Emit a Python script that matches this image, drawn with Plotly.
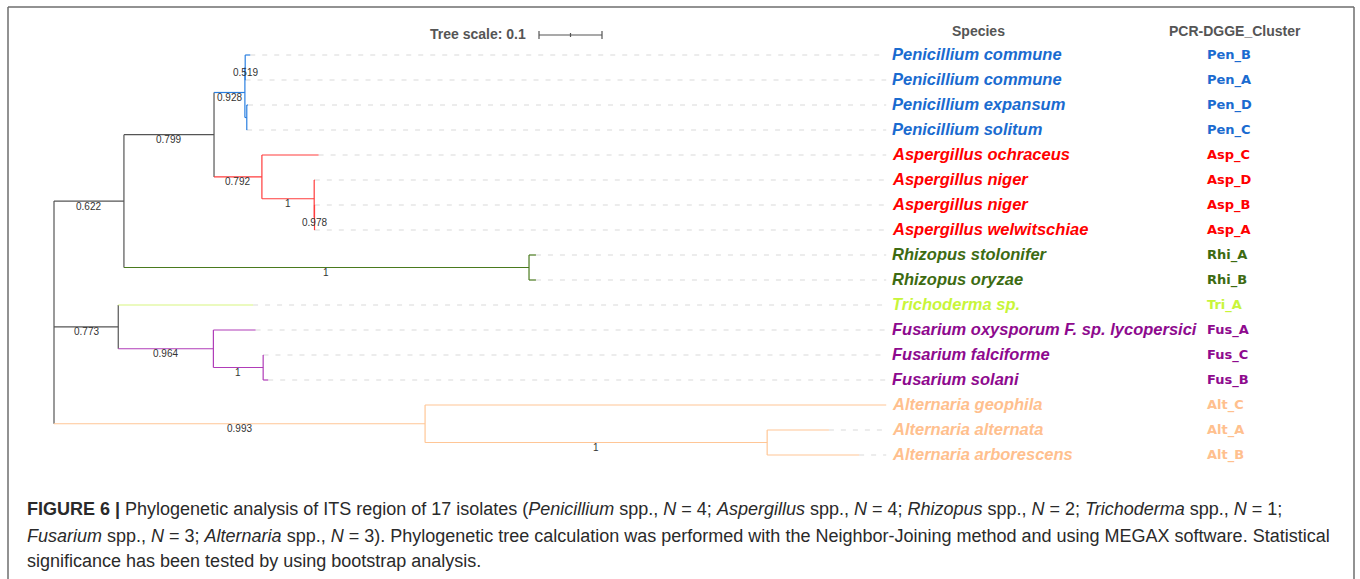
import plotly.graph_objects as go

# ---------------- data ----------------
leaf_ids = ["Pen_B", "Pen_A", "Pen_D", "Pen_C", "Asp_C", "Asp_D", "Asp_B", "Asp_A",
            "Rhi_A", "Rhi_B", "Tri_A", "Fus_A", "Fus_C", "Fus_B", "Alt_C", "Alt_A", "Alt_B"]
species = ["Penicillium commune", "Penicillium commune", "Penicillium expansum", "Penicillium solitum",
           "Aspergillus ochraceus", "Aspergillus niger", "Aspergillus niger", "Aspergillus welwitschiae",
           "Rhizopus stolonifer", "Rhizopus oryzae", "Trichoderma sp.",
           "Fusarium oxysporum F. sp. lycopersici", "Fusarium falciforme", "Fusarium solani",
           "Alternaria geophila", "Alternaria alternata", "Alternaria arborescens"]
leaf_groups = ["Pen"] * 4 + ["Asp"] * 4 + ["Rhi"] * 2 + ["Tri"] + ["Fus"] * 3 + ["Alt"] * 3
leaf_parents = ["PenBA", "PenBA", "PenDC", "PenDC", "Asp", "AspS", "AspBA", "AspBA",
                "Rhi", "Rhi", "C", "Fus", "FusS", "FusS", "Alt", "AltS", "AltS"]
leaf_lengths = [0.008, 0.0005, 0.002, 0.0005, 0.090, 0.001, 0.0005, 0.0005,
                0.011, 0.011, 0.214, 0.067, 0.0005, 0.008, 0.732, 0.098, 0.146]

node_names = ["root", "A", "B", "Pen", "PenBA", "PenDC", "Asp", "AspS", "AspBA",
              "Rhi", "C", "Fus", "FusS", "Alt", "AltS"]
node_parents = [None, "root", "A", "B", "Pen", "Pen", "B", "Asp", "AspS",
                "A", "root", "C", "Fus", "root", "Alt"]
node_lengths = [0.0, 0.111, 0.143, 0.049, 0.0005, 0.003, 0.076, 0.083, 0.0005,
                0.643, 0.102, 0.151, 0.079, 0.589, 0.543]
node_support = [None, "0.622", "0.799", "0.928", "0.519", None, "0.792", "1", "0.978",
                "1", "0.773", "0.964", "1", "0.993", "1"]
node_groups = ["base", "base", "base", "Pen", "Pen", "Pen", "Asp", "Asp", "Asp",
               "Rhi", "base", "Fus", "Fus", "Alt", "Alt"]

group_label_colors = {"Pen": "#1a6bd0", "Asp": "#ff0000", "Rhi": "#3d6b12",
                      "Tri": "#c8f53a", "Fus": "#8e0a8e", "Alt": "#ffc08e"}
group_line_colors = {"base": "#555555", "Pen": "#2a7fe0", "Asp": "#ff3c3c", "Rhi": "#4a7a1e",
                     "Tri": "#d8f580", "Fus": "#b03cb8", "Alt": "#ffc696"}

tree_scale = 0.1
caption_lines = [
    "<b>FIGURE 6 |</b> Phylogenetic analysis of ITS region of 17 isolates (<i>Penicillium</i> spp., <i>N</i> = 4; "
    "<i>Aspergillus</i> spp., <i>N</i> = 4; <i>Rhizopus</i> spp., <i>N</i> = 2; <i>Trichoderma</i> spp., <i>N</i> = 1;",
    "<i>Fusarium</i> spp., <i>N</i> = 3; <i>Alternaria</i> spp., <i>N</i> = 3). Phylogenetic tree calculation was "
    "performed with the Neighbor-Joining method and using MEGAX software. Statistical",
    "significance has been tested by using bootstrap analysis.",
]

# ---------------- layout constants (pixels) ----------------
W, H = 1360, 579
PX_PER_UNIT = 630.0       # 0.1 tree units = 63 px
ROOT_PX = 54.0
ROW0_PX, ROW_PX = 55.0, 25.0

# ---------------- compute tree coordinates ----------------
parent = {}
length = {}
group = {}
for n, p, l, g in zip(node_names, node_parents, node_lengths, node_groups):
    parent[n], length[n], group[n] = p, l, g
for n, p, l, g in zip(leaf_ids, leaf_parents, leaf_lengths, leaf_groups):
    parent[n], length[n], group[n] = p, l, g

xpos = {}
def get_x(n):
    if n in xpos:
        return xpos[n]
    v = 0.0 if parent[n] is None else get_x(parent[n]) + length[n]
    xpos[n] = v
    return v

children = {n: [] for n in node_names}
for n in list(node_names[1:]) + leaf_ids:
    children[parent[n]].append(n)

ypos = {lid: i for i, lid in enumerate(leaf_ids)}
def get_y(n):
    if n in ypos:
        return ypos[n]
    ys = [get_y(c) for c in children[n]]
    v = (min(ys) + max(ys)) / 2.0
    ypos[n] = v
    return v

for n in node_names + leaf_ids:
    get_x(n)
    get_y(n)

max_tip = max(xpos[l] for l in leaf_ids)

fig = go.Figure()

# dashed leaders
lx, ly = [], []
for l in leaf_ids:
    if xpos[l] < max_tip - 1e-6:
        lx += [xpos[l], max_tip, None]
        ly += [ypos[l], ypos[l], None]
fig.add_trace(go.Scatter(x=lx, y=ly, mode="lines", hoverinfo="skip",
                         line=dict(color="#d9d9d9", width=1, dash="5px,7px")))

# branches grouped by colour
segs = {}
for n in node_names[1:] + leaf_ids:
    g = group[n]
    p = parent[n]
    segs.setdefault(g, ([], []))
    segs[g][0].extend([xpos[p], xpos[n], None])
    segs[g][1].extend([ypos[n], ypos[n], None])
for n in node_names:
    g = group[n]
    ys = [ypos[c] for c in children[n]]
    segs.setdefault(g, ([], []))
    segs[g][0].extend([xpos[n], xpos[n], None])
    segs[g][1].extend([min(ys), max(ys), None])
for g in ["base", "Alt", "Tri", "Rhi", "Fus", "Asp", "Pen"]:
    if g in segs:
        fig.add_trace(go.Scatter(x=segs[g][0], y=segs[g][1], mode="lines", hoverinfo="skip",
                                 line=dict(color=group_line_colors[g], width=1.2)))

annotations = []
# bootstrap values
for n, s in zip(node_names, node_support):
    if s is None:
        continue
    p = parent[n]
    annotations.append(dict(x=(xpos[p] + xpos[n]) / 2, y=ypos[n], text=s, showarrow=False,
                            xanchor="center", yanchor="middle", yshift=-5,
                            font=dict(family="Liberation Sans, Arial", size=10, color="#333333")))

# leaf labels
label_x = max_tip + 4 / PX_PER_UNIT
cluster_x = (1205 - ROOT_PX) / PX_PER_UNIT
for l, sp, g in zip(leaf_ids, species, leaf_groups):
    annotations.append(dict(x=label_x, y=ypos[l], text=sp, showarrow=False, xanchor="left",
                            yanchor="middle", yshift=1,
                            font=dict(family="Liberation Sans, Arial", size=16.5,
                                      color=group_label_colors[g], weight="bold", style="italic")))
    annotations.append(dict(x=cluster_x, y=ypos[l], text=l, showarrow=False, xanchor="left",
                            yanchor="middle", yshift=0,
                            font=dict(family="DejaVu Sans", size=13,
                                      color=group_label_colors[g], weight="bold")))

# headers
head_y = (31 - ROW0_PX) / ROW_PX
annotations.append(dict(x=(978 - ROOT_PX) / PX_PER_UNIT, y=head_y, text="Species", showarrow=False,
                        xanchor="center", yanchor="middle",
                        font=dict(family="Liberation Sans, Arial", size=14, color="#555555", weight="bold")))
annotations.append(dict(x=(1235 - ROOT_PX) / PX_PER_UNIT, y=head_y, text="PCR-DGGE_Cluster", showarrow=False,
                        xanchor="center", yanchor="middle",
                        font=dict(family="Liberation Sans, Arial", size=14, color="#555555", weight="bold")))

# tree scale
sb_x0 = (539 - ROOT_PX) / PX_PER_UNIT
sb_y = (35 - ROW0_PX) / ROW_PX
tick = 4 / ROW_PX
shapes = []
shapes.append(dict(type="line", xref="x", yref="y", x0=sb_x0, x1=sb_x0 + tree_scale, y0=sb_y, y1=sb_y,
                   line=dict(color="#555555", width=1.2)))
for xx, tk in [(sb_x0, tick), (sb_x0 + tree_scale, tick), (sb_x0 + tree_scale / 2, tick / 2)]:
    shapes.append(dict(type="line", xref="x", yref="y", x0=xx, x1=xx, y0=sb_y - tk, y1=sb_y + tk,
                       line=dict(color="#555555", width=1.2)))
annotations.append(dict(x=sb_x0, y=sb_y, text="Tree scale: 0.1", showarrow=False,
                        xanchor="right", yanchor="middle", xshift=-11, yshift=1,
                        font=dict(family="Liberation Sans, Arial", size=14, color="#555555", weight="bold")))

# frame
fx0, fx1, fy0 = 8 / W, 1354 / W, 1 - 7 / H
for x0, x1, y0, y1 in [(fx0, fx1, fy0, fy0), (fx0, fx0, fy0, -0.05), (fx1, fx1, fy0, -0.05)]:
    shapes.append(dict(type="line", xref="paper", yref="paper", x0=x0, x1=x1, y0=y0, y1=y1,
                       line=dict(color="#6e6e6e", width=1.5)))

# caption
for txt, ypx in zip(caption_lines, [509, 536, 561]):
    annotations.append(dict(x=25 / W, y=1 - ypx / H, xref="paper", yref="paper", text=txt,
                            showarrow=False, xanchor="left", yanchor="middle", align="left",
                            font=dict(family="Liberation Sans, Arial", size=18, color="#2a2a2a")))

fig.update_layout(
    width=W, height=H, autosize=False,
    margin=dict(l=0, r=0, t=0, b=0),
    paper_bgcolor="white", plot_bgcolor="white",
    showlegend=False,
    xaxis=dict(range=[-ROOT_PX / PX_PER_UNIT, (W - ROOT_PX) / PX_PER_UNIT], visible=False, fixedrange=True),
    yaxis=dict(range=[(H - ROW0_PX) / ROW_PX, -ROW0_PX / ROW_PX], visible=False, fixedrange=True),
    annotations=annotations,
    shapes=shapes,
)

fig.write_html("out.html", config={"displayModeBar": False},
               post_script="document.body.style.margin='0';document.body.style.overflow='hidden';")
